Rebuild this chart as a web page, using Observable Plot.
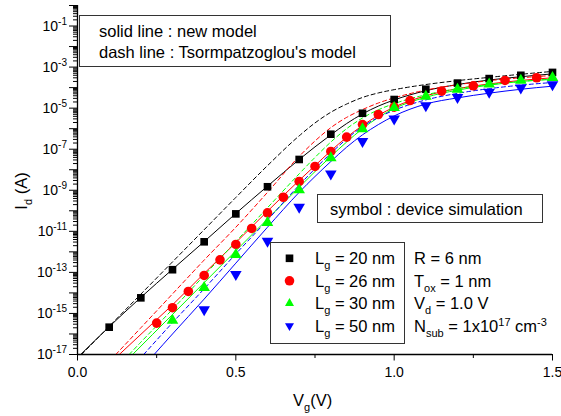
<!DOCTYPE html>
<html><head><meta charset="utf-8">
<script src="https://cdn.jsdelivr.net/npm/d3@7"></script>
<script src="https://cdn.jsdelivr.net/npm/@observablehq/plot@0.6"></script>
<style>
html,body{margin:0;padding:0;background:#fff;}
#chart svg{display:block;}
</style></head><body><div id="chart"></div>
<script>
const FONT = "'Liberation Sans', Arial, sans-serif";

// ---- device simulation (symbols): Vg (V) and log10(Id / A) ----
const vg20 = [0.1,0.2,0.3,0.4,0.5,0.6,0.7,0.8,0.9,1.0,1.1,1.2,1.3,1.4,1.5];
const logId20 = [-15.67,-14.24,-12.87,-11.51,-10.15,-8.83,-7.50,-6.27,-5.25,-4.58,-4.08,-3.78,-3.56,-3.40,-3.26];
const vg26 = [0.25,0.3,0.35,0.4,0.45,0.5,0.55,0.6,0.65,0.7,0.75,0.8,0.85,0.9,0.95,1.0,1.05,1.15,1.25,1.35,1.45];
const logId26 = [-15.47,-14.72,-13.93,-13.15,-12.39,-11.64,-10.86,-10.10,-9.34,-8.57,-7.84,-7.11,-6.41,-5.80,-5.31,-4.95,-4.63,-4.17,-3.91,-3.65,-3.52];
const vg30 = [0.3,0.4,0.5,0.6,0.7,0.8,0.9,1.0,1.1,1.2,1.3,1.4,1.5];
const logId30 = [-15.34,-13.75,-12.14,-10.58,-8.98,-7.42,-6.01,-4.98,-4.43,-4.09,-3.83,-3.65,-3.52];
const vg50 = [0.4,0.5,0.6,0.7,0.8,0.9,1.0,1.1,1.2,1.3,1.4,1.5];
const logId50 = [-14.81,-13.10,-11.48,-9.82,-8.20,-6.62,-5.52,-4.87,-4.47,-4.22,-4.01,-3.85];

// ---- new model (solid lines) ----
const vgNew20 = [0.01,0.1,0.2,0.3,0.4,0.5,0.6,0.7,0.8,0.85,0.9,0.95,1.0,1.1,1.2,1.3,1.4,1.5];
const logNew20 = [-17,-15.65,-14.22,-12.85,-11.5,-10.13,-8.8,-7.5,-6.3,-5.75,-5.28,-4.9,-4.6,-4.15,-3.85,-3.63,-3.47,-3.33];
const vgNew26 = [0.132,0.25,0.3,0.4,0.5,0.6,0.7,0.75,0.8,0.85,0.9,0.95,1.0,1.1,1.2,1.3,1.4,1.5];
const logNew26 = [-17,-15.3,-14.58,-13.05,-11.55,-10.02,-8.52,-7.8,-7.08,-6.42,-5.85,-5.35,-4.95,-4.4,-4.05,-3.82,-3.65,-3.52];
const vgNew30 = [0.174,0.3,0.4,0.5,0.6,0.7,0.8,0.85,0.9,0.95,1.0,1.1,1.2,1.3,1.4,1.5];
const logNew30 = [-17,-15.05,-13.5,-11.95,-10.4,-8.85,-7.35,-6.65,-6.0,-5.45,-5.02,-4.47,-4.12,-3.88,-3.7,-3.6];
const vgNew50 = [0.242,0.3,0.4,0.5,0.6,0.7,0.8,0.85,0.9,0.95,1.0,1.1,1.2,1.3,1.4,1.5];
const logNew50 = [-17,-16.0,-14.3,-12.55,-10.8,-9.1,-7.6,-6.9,-6.3,-5.8,-5.38,-4.8,-4.5,-4.27,-4.08,-3.93];

// ---- Tsormpatzoglou's model (dashed lines) ----
const vgTs20 = [0.013,0.1,0.2,0.3,0.4,0.5,0.6,0.7,0.75,0.8,0.85,0.9,0.95,1.0,1.1,1.2,1.3,1.4,1.5];
const logTs20 = [-17,-15.63,-14.06,-12.49,-10.92,-9.35,-7.8,-6.35,-5.72,-5.2,-4.8,-4.48,-4.26,-4.1,-3.85,-3.66,-3.5,-3.35,-3.21];
const vgTs26 = [0.121,0.2,0.3,0.4,0.5,0.6,0.7,0.75,0.8,0.85,0.9,0.95,1.0,1.1,1.2,1.3,1.4,1.5];
const logTs26 = [-17,-15.7,-14.05,-12.4,-10.8,-9.1,-7.35,-6.6,-5.95,-5.45,-5.07,-4.75,-4.5,-4.12,-3.86,-3.66,-3.52,-3.41];
const vgTs30 = [0.163,0.2,0.3,0.4,0.5,0.6,0.7,0.75,0.8,0.85,0.9,0.95,1.0,1.1,1.2,1.3,1.4,1.5];
const logTs30 = [-17,-16.4,-14.8,-13.15,-11.5,-9.85,-8.2,-7.4,-6.65,-6.0,-5.48,-5.08,-4.78,-4.35,-4.05,-3.85,-3.7,-3.58];
const vgTs50 = [0.209,0.3,0.4,0.5,0.6,0.7,0.8,0.85,0.9,0.95,1.0,1.1,1.2,1.3,1.4,1.5];
const logTs50 = [-17,-15.45,-13.8,-12.1,-10.45,-8.75,-7.2,-6.5,-5.9,-5.45,-5.1,-4.6,-4.28,-4.05,-3.88,-3.75];

// ---- series meta / ticks ----
const seriesNames = ["20","26","30","50"];
const seriesColors = ["#000000","#ff0000","#00ff00","#0000ff"];
const xMajorTicks = [0,0.5,1.0,1.5];
const xMinorTicks = [0.25,0.75,1.25];
const yLabelExps = [-17,-15,-13,-11,-9,-7,-5,-3,-1];

const toRows = (vs, ls, name) => vs.map((v,i) => ({vg: v, id: Math.pow(10, ls[i]), s: name}));
const sim = [toRows(vg20,logId20,"20"),toRows(vg26,logId26,"26"),toRows(vg30,logId30,"30"),toRows(vg50,logId50,"50")];
const newM = [toRows(vgNew20,logNew20,"20"),toRows(vgNew26,logNew26,"26"),toRows(vgNew30,logNew30,"30"),toRows(vgNew50,logNew50,"50")];
const tsM = [toRows(vgTs20,logTs20,"20"),toRows(vgTs26,logTs26,"26"),toRows(vgTs30,logTs30,"30"),toRows(vgTs50,logTs50,"50")];

const yMajor = d3.range(-17, 1).map(e => Math.pow(10, e));
const yMinor = [];
for (let e = -17; e < 0; e++) for (let k = 2; k <= 9; k++) yMinor.push(k * Math.pow(10, e));

const symbolOpts = [
  {symbol: "square", r: 4.3, rotate: 0},
  {symbol: "circle", r: 4.8, rotate: 0},
  {symbol: "triangle", r: 4.3, rotate: 0},
  {symbol: "triangle", r: 4.3, rotate: 180}
];

const marks = [
  Plot.axisX({ticks: xMajorTicks, tickSize: 6.5, tickPadding: 6, tickFormat: d3.format(".1f"), fontSize: 14, label: null}),
  Plot.axisX({ticks: xMinorTicks, tickSize: 4, tickFormat: () => "", label: null}),
  Plot.axisY({ticks: yMajor, tickSize: 8, tickFormat: () => "", label: null}),
  Plot.axisY({ticks: yMinor, tickSize: 4, tickFormat: () => "", label: null}),
  Plot.ruleX([0], {stroke: "black", strokeWidth: 1.3}),
  Plot.ruleY([1e-17], {stroke: "black", strokeWidth: 1.3})
];
for (let i = 0; i < 4; i++) {
  marks.push(Plot.line(tsM[i], {x: "vg", y: "id", stroke: seriesColors[i], strokeWidth: 1, strokeDasharray: "4,3", curve: "monotone-x", clip: true}));
  marks.push(Plot.line(newM[i], {x: "vg", y: "id", stroke: seriesColors[i], strokeWidth: 1, curve: "monotone-x", clip: true}));
}
for (let i = 0; i < 4; i++) {
  marks.push(Plot.dot(sim[i], {x: "vg", y: "id", fill: seriesColors[i], stroke: "none", ...symbolOpts[i]}));
}

const chart = Plot.plot({
  width: 561, height: 416,
  marginTop: 5, marginBottom: 62, marginLeft: 77, marginRight: 9,
  style: {fontFamily: FONT, fontSize: "14px", background: "white", color: "black", overflow: "visible"},
  x: {domain: [0, 1.5]},
  y: {type: "log", domain: [1e-17, 1]},
  marks
});
document.getElementById("chart").appendChild(chart);

// ---- annotations (real SVG text) ----
const svg = d3.select(chart);
const ys = chart.scale("y");
const ann = svg.append("g").attr("font-family", FONT).attr("fill", "black").attr("text-anchor", "start");

// y tick labels 10^n
yLabelExps.forEach(e => {
  const y = ys.apply(Math.pow(10, e));
  const t = ann.append("text").attr("x", 67).attr("y", y + 5).attr("text-anchor", "end").attr("font-size", 14);
  t.append("tspan").text("10");
  t.append("tspan").attr("dy", -6).attr("font-size", 10).text(String(e));
});

// axis titles
const xl = ann.append("text").attr("x", 293).attr("y", 406).attr("font-size", 16.5);
xl.append("tspan").text("V");
xl.append("tspan").attr("dy", 5).attr("font-size", 11).text("g");
xl.append("tspan").attr("dy", -5).text("(V)");

const yl = ann.append("text").attr("transform", "translate(27,191) rotate(-90)").attr("text-anchor", "middle").attr("font-size", 16.5);
yl.append("tspan").text("I");
yl.append("tspan").attr("dy", 5).attr("font-size", 11).text("d");
yl.append("tspan").attr("dy", -5).text(" (A)");

function box(x0, y0, x1, y1) {
  ann.append("rect").attr("x", x0).attr("y", y0).attr("width", x1 - x0).attr("height", y1 - y0)
    .attr("fill", "white").attr("stroke", "#333").attr("stroke-width", 1);
}
box(79.5, 15.5, 390.5, 66.5);
ann.append("text").attr("x", 99).attr("y", 37).attr("font-size", 16.5).text("solid line : new model");
ann.append("text").attr("x", 99).attr("y", 57.5).attr("font-size", 16.5).text("dash line : Tsormpatzoglou's model");

box(317.5, 194.5, 542.5, 222.5);
ann.append("text").attr("x", 330).attr("y", 215).attr("font-size", 16.5).text("symbol : device simulation");

box(270.5, 242.5, 404.5, 343.5);
const d3sym = {square: d3.symbolSquare, circle: d3.symbolCircle, triangle: d3.symbolTriangle2};
const rowsY = [258.3, 280.8, 303.3, 325.8];
seriesNames.forEach((n, i) => {
  const o = symbolOpts[i];
  ann.append("path")
    .attr("d", d3.symbol(d3sym[o.symbol], Math.PI * o.r * o.r)())
    .attr("transform", `translate(289.5,${rowsY[i]}) rotate(${o.rotate})`)
    .attr("fill", seriesColors[i]);
  const t = ann.append("text").attr("x", 315).attr("y", rowsY[i] + 6).attr("font-size", 16.5);
  t.append("tspan").text("L");
  t.append("tspan").attr("dy", 5).attr("font-size", 11).text("g");
  t.append("tspan").attr("dy", -5).text(" = " + n + " nm");
});

// device parameters
const p1 = ann.append("text").attr("x", 414).attr("y", rowsY[0] + 6).attr("font-size", 16.5).text("R = 6 nm");
const p2 = ann.append("text").attr("x", 414).attr("y", rowsY[1] + 6).attr("font-size", 16.5);
p2.append("tspan").text("T");
p2.append("tspan").attr("dy", 5).attr("font-size", 11).text("ox");
p2.append("tspan").attr("dy", -5).text(" = 1 nm");
const p3 = ann.append("text").attr("x", 414).attr("y", rowsY[2] + 6).attr("font-size", 16.5);
p3.append("tspan").text("V");
p3.append("tspan").attr("dy", 5).attr("font-size", 11).text("d");
p3.append("tspan").attr("dy", -5).text(" = 1.0 V");
const p4 = ann.append("text").attr("x", 414).attr("y", rowsY[3] + 6).attr("font-size", 16.5);
p4.append("tspan").text("N");
p4.append("tspan").attr("dy", 5).attr("font-size", 11).text("sub");
p4.append("tspan").attr("dy", -5).text(" = 1x10");
p4.append("tspan").attr("dy", -6).attr("font-size", 11).text("17");
p4.append("tspan").attr("dy", 6).text(" cm");
p4.append("tspan").attr("dy", -6).attr("font-size", 11).text("-3");
</script>
</body></html>
